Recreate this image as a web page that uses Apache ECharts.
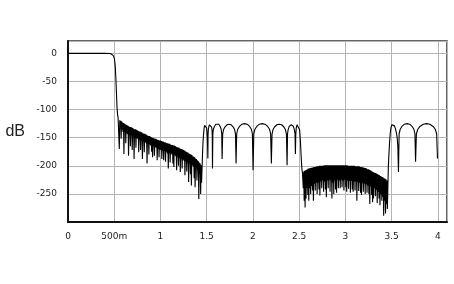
<!DOCTYPE html>
<html><head><meta charset="utf-8">
<script src="https://cdn.jsdelivr.net/npm/echarts@6/dist/echarts.min.js"></script>
<style>html,body{margin:0;padding:0;background:#fff}#c{width:454px;height:284px}</style>
</head><body><div id="c"></div>
<script>
// Tick labels
const xTickLabels = ['0','500m','1','1.5','2','2.5','3','3.5','4'];
const yTickLabels = ['0','-50','-100','-150','-200','-250'];

// Passband and transition band: [x, dB]
const passband = [[0,0],[0.1,0],[0.2,0],[0.3,0],[0.4,0],[0.46,-0.2],[0.476,-1],[0.49,-4],[0.501,-9],[0.507,-16],[0.512,-25],[0.518,-45],[0.523,-65],[0.527,-82],[0.530,-95],[0.534,-104],[0.537,-110],[0.542,-114],[0.546,-116]];

// First noise floor (0.55 .. 1.44), sampled every 0.01: peak and dip levels
const floor1Start = 0.55, floor1Step = 0.01;
const floor1Top = [-117,-119,-120,-121,-123,-124,-125,-126,-127,-128,
 -129,-130,-131,-131,-132,-133,-134,-135,-135,-136,
 -137,-138,-139,-139,-140,-141,-142,-143,-143,-144,
 -145,-146,-147,-147,-148,-149,-150,-150,-151,-152,
 -152,-153,-154,-154,-155,-155,-156,-157,-157,-158,
 -158,-159,-160,-160,-161,-161,-162,-163,-163,-164,
 -164,-165,-166,-167,-167,-168,-169,-170,-170,-171,
 -172,-173,-174,-175,-176,-177,-178,-179,-180,-181,
 -183,-184,-185,-187,-188,-190,-192,-194,-196,-199];
const floor1Dip = [-170,-134,-152,-136,-140,-179,-140,-160,-142,-144,
 -182,-145,-165,-146,-172,-148,-188,-150,-168,-151,
 -152,-176,-154,-172,-155,-188,-157,-176,-158,-160,
 -196,-161,-180,-162,-164,-175,-185,-165,-182,-167,
 -168,-190,-170,-185,-171,-172,-188,-173,-190,-174,
 -193,-175,-178,-205,-177,-194,-178,-180,-196,-202,
 -181,-183,-208,-184,-200,-186,-211,-188,-205,-189,
 -191,-217,-192,-210,-194,-229,-196,-215,-235,-199,
 -201,-222,-238,-205,-226,-208,-259,-214,-250,-230];

// Stopband lobes 1.45 .. 2.54: [x, dB]
const lobesA = [[1.450,-205],[1.455,-180],[1.460,-160],[1.466,-145],[1.472,-134],[1.478,-128],[1.486,-125],[1.494,-127],[1.500,-133],[1.506,-145],[1.510,-162],[1.513,-187],
[1.515,-146],[1.518,-136],[1.523,-131],[1.530,-127],[1.538,-126],[1.546,-127],[1.553,-131],[1.558,-136],[1.561,-146],[1.563,-205],
[1.567,-143],[1.573,-135],[1.584,-130],[1.599,-126],[1.615,-125],[1.631,-126],[1.646,-130],[1.657,-135],[1.663,-143],[1.667,-188],
[1.673,-144],[1.682,-136],[1.697,-131],[1.720,-127],[1.743,-126],[1.765,-127],[1.788,-131],[1.803,-136],[1.812,-144],[1.818,-196],
[1.825,-143],[1.836,-135],[1.855,-130],[1.882,-126],[1.910,-125],[1.938,-126],[1.965,-130],[1.984,-135],[1.995,-143],[2.002,-208],
[2.010,-143],[2.022,-135],[2.042,-130],[2.071,-126],[2.101,-125],[2.131,-126],[2.160,-130],[2.180,-135],[2.192,-143],[2.200,-196],
[2.207,-144],[2.217,-136],[2.234,-131],[2.260,-127],[2.285,-126],[2.311,-127],[2.336,-131],[2.353,-136],[2.363,-144],[2.370,-199],
[2.375,-143],[2.381,-136],[2.393,-130],[2.415,-127],[2.438,-130],[2.449,-136],[2.456,-143],[2.460,-179],
[2.464,-145],[2.469,-133],[2.477,-127],[2.488,-125],[2.498,-128],[2.506,-136],[2.514,-155],[2.522,-182],[2.530,-205],[2.536,-212]];

// Second noise floor (2.54 .. 3.45), sampled every 0.01
const floor2Start = 2.54, floor2Step = 0.01;
const floor2Top = [-212,-210,-209,-208,-207,-206,-205,-205,-204,-204,
 -203,-203,-202,-202,-202,-201,-201,-201,-200,-200,
 -200,-200,-200,-199,-199,-199,-199,-199,-199,-199,
 -199,-199,-199,-199,-199,-199,-199,-199,-199,-199,
 -199,-199,-199,-199,-199,-199,-199,-199,-199,-200,
 -200,-200,-200,-200,-200,-200,-200,-201,-201,-201,
 -201,-201,-202,-202,-202,-203,-203,-204,-204,-205,
 -206,-206,-207,-208,-209,-210,-211,-212,-213,-213,
 -214,-215,-216,-217,-218,-219,-220,-221,-222,-223,
 -224,-226];
const floor2Dip = [-240,-262,-274,-258,-240,-252,-262,-240,-250,-236,
 -244,-262,-232,-244,-230,-250,-230,-242,-253,-228,
 -240,-226,-246,-228,-242,-256,-226,-240,-225,-246,
 -226,-258,-230,-250,-226,-242,-248,-225,-240,-226,
 -240,-225,-238,-226,-244,-225,-238,-246,-226,-241,
 -227,-248,-227,-242,-246,-228,-244,-228,-262,-229,
 -245,-230,-248,-252,-231,-246,-232,-250,-233,-248,
 -235,-250,-268,-237,-252,-265,-258,-240,-254,-243,
 -266,-246,-258,-270,-250,-262,-255,-289,-262,-285,
 -268,-277];

// Stopband lobes 3.46 .. 4.0
const lobesB = [[3.460,-240],[3.465,-205],[3.470,-185],[3.478,-160],[3.486,-142],[3.494,-132],[3.503,-127],[3.512,-125],[3.522,-126],[3.532,-129],[3.542,-134],[3.552,-141],[3.561,-150],[3.568,-165],[3.575,-211],
[3.582,-143],[3.594,-135],[3.612,-130],[3.640,-126],[3.668,-125],[3.695,-126],[3.723,-130],[3.742,-135],[3.753,-143],[3.760,-193],
[3.769,-143],[3.784,-135],[3.807,-130],[3.843,-126],[3.879,-125],[3.914,-126],[3.950,-130],[3.973,-135],[3.988,-143],[3.997,-187]];

function floorPoints(start, step, tops, dips) {
  const out = [];
  for (let i = 0; i < tops.length; i++) {
    out.push([+(start + i * step).toFixed(4), tops[i]]);
    out.push([+(start + i * step + step / 2).toFixed(4), dips[i]]);
  }
  return out;
}

const trace = [].concat(
  passband,
  floorPoints(floor1Start, floor1Step, floor1Top, floor1Dip),
  lobesA,
  floorPoints(floor2Start, floor2Step, floor2Top, floor2Dip),
  lobesB
);

const FONT = 'DejaVu Sans';
const chart = echarts.init(document.getElementById('c'), null, {renderer: 'canvas'});
chart.setOption({
  animation: false,
  backgroundColor: '#fff',
  grid: {left: 68, right: 7, top: 41, bottom: 62, show: true, borderColor: '#333', borderWidth: 1.5},
  xAxis: {
    type: 'value', min: 0, max: 4.1, interval: 0.5,
    axisLine: {show: true, onZero: false, lineStyle: {color: '#111', width: 2}},
    axisTick: {show: false},
    splitLine: {show: true, lineStyle: {color: '#b4b4b4', width: 1}},
    axisLabel: {
      margin: 10, color: '#222', fontSize: 9, fontFamily: FONT,
      formatter: function (v) {
        const k = Math.round(v / 0.5);
        if (Math.abs(v - k * 0.5) > 1e-6) return '';
        return xTickLabels[k] || '';
      }
    }
  },
  yAxis: {
    type: 'value', min: -300, max: 22, interval: 50,
    name: 'dB', nameLocation: 'middle', nameRotate: 0, nameGap: 43,
    nameTextStyle: {fontSize: 16, color: '#222', fontFamily: 'Liberation Sans'},
    axisLine: {show: true, onZero: false, lineStyle: {color: '#111', width: 2}},
    axisTick: {show: false},
    splitLine: {show: true, lineStyle: {color: '#b4b4b4', width: 1}},
    axisLabel: {
      margin: 11, color: '#222', fontSize: 9, fontFamily: FONT,
      formatter: function (v) {
        const k = Math.round(-v / 50);
        if (Math.abs(v + k * 50) > 1e-6) return '';
        return yTickLabels[k] || '';
      }
    }
  },
  series: [{
    type: 'line', data: trace, showSymbol: false, symbol: 'none',
    sampling: null, clip: true,
    lineStyle: {color: '#000', width: 1.1}
  }]
});
</script></body></html>
